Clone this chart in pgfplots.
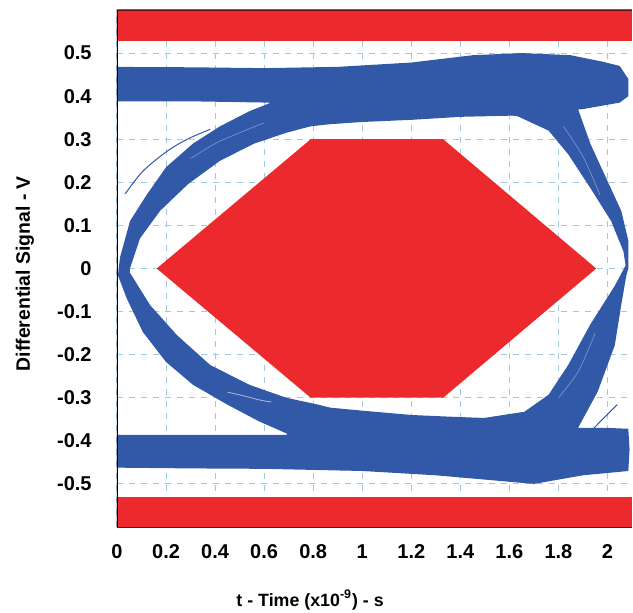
\documentclass[border=0pt]{standalone}
\usepackage{fontspec}
\setmainfont{Liberation Sans}
\usepackage{pgfplots}
\pgfplotsset{compat=1.18}
\definecolor{eyeblue}{RGB}{50,88,168}
\definecolor{maskred}{RGB}{236,42,46}
\definecolor{gridblue}{RGB}{160,200,225}
\begin{document}
\begin{tikzpicture}
\begin{axis}[
  name=main,
  scale only axis,
  width=257.5pt, height=258.5pt,
  xmin=0, xmax=2.1, ymin=-0.6, ymax=0.6,
  xtick={0,0.2,0.4,0.6,0.8,1,1.2,1.4,1.6,1.8,2},
  xticklabels={0,0.2,0.4,0.6,0.8,1,1.2,1.4,1.6,1.8,2},
  ytick={-0.5,-0.4,-0.3,-0.2,-0.1,0,0.1,0.2,0.3,0.4,0.5},
  yticklabels={-0.5,-0.4,-0.3,-0.2,-0.1,0,0.1,0.2,0.3,0.4,0.5},
  major tick length=0pt,
  grid=major,
  major grid style={gridblue, dashed, line width=0.5pt},
  axis line style={draw=none},
  /pgf/number format/assume math mode=true,
  xticklabel style={font=\fontsize{10}{12}\selectfont\bfseries, anchor=base, inner sep=0pt, yshift=-15.5pt},
  yticklabel style={font=\fontsize{10}{12}\selectfont\bfseries, anchor=east, inner sep=0pt, xshift=-12.5pt},
  xlabel={t - Time (x10\textsuperscript{-9}) - s},
  ylabel={Differential Signal - V},
  xlabel style={font=\fontsize{8.9}{11}\selectfont\bfseries, at={(axis description cs:0.375,-0.153)}, anchor=base, inner sep=0pt},
  ylabel style={font=\fontsize{9.7}{11}\selectfont\bfseries, at={(axis description cs:-0.169,0.490)}, anchor=base, inner sep=0pt},
  clip=true,
]
% red mask bands
\addplot[fill=maskred, draw=none] coordinates {(-0.1,0.527) (2.2,0.527) (2.2,0.7) (-0.1,0.7)} -- cycle;
\addplot[fill=maskred, draw=none] coordinates {(-0.1,-0.53) (2.2,-0.53) (2.2,-0.7) (-0.1,-0.7)} -- cycle;
% red hexagon mask
\addplot[fill=maskred, draw=none] coordinates {(0.162,0) (0.79,0.3) (1.33,0.3) (1.954,0) (1.33,-0.3) (0.79,-0.3)} -- cycle;
% upper blue band
\addplot[fill=eyeblue, draw=none] coordinates {
 (-0.05,0.468) (0.3,0.467) (0.6,0.465) (0.9,0.468) (1.2,0.478) (1.45,0.495) (1.65,0.50) (1.85,0.495) (1.98,0.48) (2.05,0.47) (2.085,0.44) (2.085,0.40) (2.05,0.385) (1.9,0.37)
 (1.63,0.355) (1.4,0.352) (1.2,0.345) (1.0,0.34) (0.87,0.335) (0.75,0.36) (0.62,0.385) (0.3,0.388) (-0.05,0.388)} -- cycle;
% lower blue band
\addplot[fill=eyeblue, draw=none] coordinates {
 (-0.05,-0.386) (0.69,-0.386) (0.87,-0.323) (1.0,-0.33) (1.2,-0.34) (1.36,-0.344) (1.5,-0.347) (1.66,-0.333) (1.88,-0.37) (2.0,-0.37) (2.085,-0.372) (2.09,-0.42)
 (2.085,-0.47) (1.9,-0.48) (1.7,-0.50) (1.5,-0.49) (1.3,-0.48) (1.0,-0.47) (0.6,-0.465) (0.3,-0.464) (-0.05,-0.462)} -- cycle;
% left crossing bundle
\addplot[fill=eyeblue, draw=none] coordinates {
 (0.65,0.39) (0.54,0.365) (0.42,0.33) (0.31,0.29) (0.20,0.235) (0.12,0.17) (0.053,0.11) (0.012,0.025) (0.004,-0.016) (0.04,-0.07) (0.106,-0.148) (0.20,-0.217) (0.31,-0.27) (0.45,-0.316) (0.58,-0.355) (0.72,-0.39)
 (0.87,-0.39) (0.87,-0.323) (0.82,-0.316) (0.69,-0.30) (0.54,-0.27) (0.38,-0.224) (0.245,-0.155) (0.135,-0.085) (0.053,-0.01) (0.053,0.0) (0.094,0.07) (0.176,0.134) (0.29,0.196) (0.42,0.25) (0.56,0.29) (0.69,0.315) (0.79,0.33) (0.87,0.335) (0.87,0.39)} -- cycle;
% right crossing bundle
\addplot[fill=eyeblue, draw=none] coordinates {
 (1.5,0.40) (1.5,0.37) (1.635,0.353) (1.76,0.32) (1.84,0.265) (1.93,0.187) (2.015,0.11) (2.065,0.04) (2.074,0.007) (2.03,-0.04) (1.93,-0.13) (1.84,-0.224) (1.76,-0.293) (1.66,-0.333) (1.5,-0.347) (1.5,-0.40)
 (1.88,-0.40) (1.88,-0.37) (1.96,-0.286) (2.03,-0.178) (2.056,-0.085) (2.077,-0.016) (2.085,0.0) (2.085,0.065) (2.056,0.134) (2.0,0.203) (1.93,0.29) (1.88,0.37) (1.88,0.40)} -- cycle;
% light streaks inside the bundles
\addplot[white, line width=0.4pt, opacity=0.6, smooth] coordinates {(0.45,-0.287) (0.52,-0.296) (0.58,-0.305) (0.63,-0.31)};
\addplot[white, line width=0.3pt, opacity=0.4, smooth] coordinates {(0.30,0.255) (0.40,0.29) (0.50,0.315) (0.60,0.338)};
\addplot[white, line width=0.3pt, opacity=0.4, smooth] coordinates {(1.80,-0.30) (1.88,-0.24) (1.95,-0.15)};
\addplot[white, line width=0.3pt, opacity=0.4, smooth] coordinates {(1.82,0.33) (1.90,0.26) (1.97,0.17)};
% stray traces
\addplot[eyeblue, line width=0.5pt, smooth] coordinates {(0.033,0.173) (0.106,0.226) (0.204,0.272) (0.286,0.30) (0.38,0.323)};
\addplot[eyeblue, line width=0.5pt] coordinates {(1.93,-0.379) (1.98,-0.35) (2.04,-0.316)};
% frame
\draw[black, line width=0.7pt] (rel axis cs:0,0) -- (rel axis cs:0,1);
\draw[black!60!maskred, line width=0.4pt] (rel axis cs:0,1) -- (rel axis cs:1,1);
\draw[black!60!maskred, line width=0.4pt] (rel axis cs:0,0) -- (rel axis cs:1,0);
\coordinate (BL) at (rel axis cs:0,0);
\end{axis}
\pgfresetboundingbox
\path[use as bounding box] ([shift={(-58.5pt,-42.5pt)}]BL) rectangle ([shift={(258pt,263.5pt)}]BL);
\end{tikzpicture}
\end{document}
